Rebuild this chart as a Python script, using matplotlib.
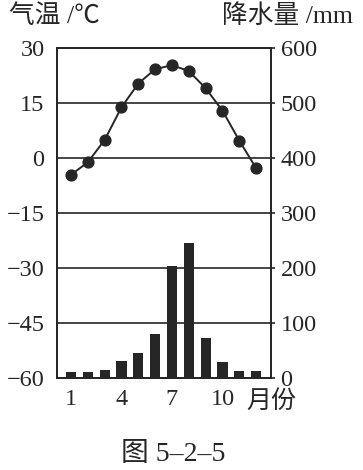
import numpy as np
import matplotlib
matplotlib.use("Agg")
import matplotlib.pyplot as plt

plt.rcParams['font.family'] = ['Liberation Serif', 'Noto Sans CJK SC', 'DejaVu Sans']

months = np.arange(1, 13)
temperature = [-4.6, -1.2, 4.9, 13.8, 20.3, 24.2, 25.3, 23.7, 19.0, 12.9, 4.7, -2.8]
precipitation = [11, 11, 15, 30, 46, 79, 203, 246, 72, 28, 13, 13]
tempTicks = [-60, -45, -30, -15, 0, 15, 30]
precTicks = [0, 100, 200, 300, 400, 500, 600]
monthTicks = [1, 4, 7, 10]

ink = '#262626'

fig = plt.figure(figsize=(3.63, 4.70), dpi=100)
ax = fig.add_axes([0.157, 0.196, 0.589, 0.702])
ax2 = ax.twinx()

# bars behind the temperature line
ax2.bar(months, precipitation, width=0.6, color=ink, zorder=2)
ax2.set_ylim(0, 600)
ax2.set_yticks(precTicks)
ax2.tick_params(axis='y', direction='out', length=3, width=1.2, color=ink,
                pad=4, labelsize=17.5, labelcolor=ink)

ax.set_zorder(ax2.get_zorder() + 1)
ax.patch.set_visible(False)
ax.plot(months, temperature, color=ink, linewidth=1.4, marker='o',
        markersize=7.8, markerfacecolor=ink, markeredgecolor=ink, zorder=3)
ax.set_ylim(-60, 30)
ax.set_xlim(0.17, 12.87)
ax.set_yticks(tempTicks)
ax.grid(axis='y', color=ink, linewidth=1.2)
ax.tick_params(axis='y', length=0, pad=9, labelsize=17.5, labelcolor=ink)
ax.set_xticks(monthTicks)
ax.tick_params(axis='x', length=0, pad=8, labelsize=17.5, labelcolor=ink)

for a in (ax, ax2):
    for s in a.spines.values():
        s.set_color(ink)
        s.set_linewidth(1.3)

fig.text(0.025, 0.966, '气温 /℃', fontsize=18.5, color=ink, va='center', ha='left')
fig.text(0.972, 0.966, '降水量 /mm', fontsize=18.5, color=ink, va='center', ha='right')
fig.text(0.678, 0.146, '月份', fontsize=18, color=ink, va='center', ha='left')
fig.text(0.477, 0.032, '图 5–2–5', fontsize=20, color=ink, va='center', ha='center')

fig.savefig('out.png', dpi=100)
